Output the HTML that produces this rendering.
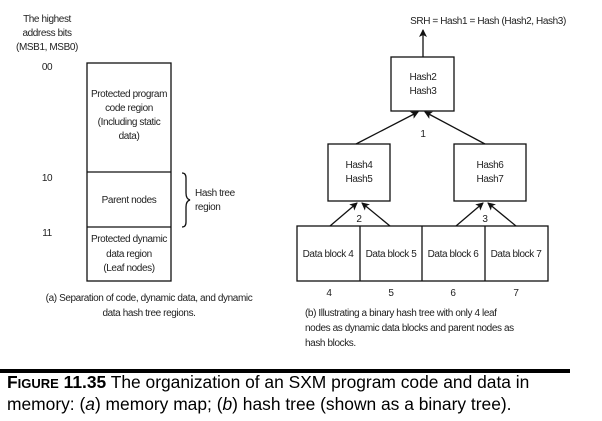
<!DOCTYPE html>
<html><head><meta charset="utf-8"><style>
body{margin:0;background:#fff;width:602px;height:421px;overflow:hidden}
svg text{font-family:"Liberation Sans Narrow","Liberation Sans",sans-serif;font-size:10px;fill:#222;letter-spacing:-0.4px}
.cap{position:absolute;left:7px;top:372px;font-family:"Liberation Sans",sans-serif;font-size:17.4px;line-height:20px;color:#000;white-space:nowrap}
</style></head><body>
<svg width="602" height="421" style="position:absolute;left:0;top:0">
<defs><marker id="a" markerWidth="8" markerHeight="8" refX="7" refY="4" orient="auto" markerUnits="userSpaceOnUse"><path d="M0,0 L8,4 L0,8 L2,4z" fill="#111"/></marker></defs>
<g stroke="#111" stroke-width="1.3" fill="none">
<rect x="87" y="63" width="84" height="218"/>
<line x1="87" y1="172" x2="171" y2="172"/><line x1="87" y1="227" x2="171" y2="227"/>
<path d="M182,173 q4,0 4,5 v15 q0,6 4,7 q-4,1 -4,7 v15 q0,5 -4,5"/>
<rect x="391" y="57" width="63" height="54"/>
<rect x="328" y="144" width="62" height="57"/>
<rect x="454" y="144" width="72" height="57"/>
<rect x="297" y="226" width="251" height="55"/>
<line x1="360" y1="226" x2="360" y2="281"/><line x1="422" y1="226" x2="422" y2="281"/><line x1="485" y1="226" x2="485" y2="281"/>
<line x1="423" y1="57" x2="423" y2="30" marker-end="url(#a)"/>
<line x1="356" y1="144" x2="418" y2="112" marker-end="url(#a)"/>
<line x1="485" y1="144" x2="425" y2="112" marker-end="url(#a)"/>
<line x1="330" y1="226" x2="357" y2="203" marker-end="url(#a)"/>
<line x1="390" y1="226" x2="362" y2="203" marker-end="url(#a)"/>
<line x1="456" y1="226" x2="483" y2="203" marker-end="url(#a)"/>
<line x1="516" y1="226" x2="488" y2="203" marker-end="url(#a)"/>
</g>
<rect x="0" y="369" width="570" height="4" fill="#000"/>
<g text-anchor="middle">
<text x="47" y="22">The highest</text><text x="47" y="36">address bits</text><text x="47" y="50">(MSB1, MSB0)</text>
<text x="47" y="70">00</text><text x="47" y="181">10</text><text x="47" y="236">11</text>
<text x="129" y="97">Protected program</text><text x="129" y="111">code region</text><text x="129" y="125">(Including static</text><text x="129" y="139">data)</text>
<text x="129" y="203">Parent nodes</text>
<text x="129" y="242">Protected dynamic</text><text x="129" y="257">data region</text><text x="129" y="271">(Leaf nodes)</text>
<text x="149" y="301">(a) Separation of code, dynamic data, and dynamic</text><text x="149" y="316">data hash tree regions.</text>
<text x="488" y="24">SRH = Hash1 = Hash (Hash2, Hash3)</text>
<text x="423" y="80">Hash2</text><text x="423" y="94">Hash3</text>
<text x="359" y="168">Hash4</text><text x="359" y="182">Hash5</text>
<text x="490" y="168">Hash6</text><text x="490" y="182">Hash7</text>
<text x="423" y="137">1</text><text x="359" y="222">2</text><text x="485" y="222">3</text>
<text x="328" y="257">Data block 4</text><text x="391" y="257">Data block 5</text><text x="453" y="257">Data block 6</text><text x="516" y="257">Data block 7</text>
<text x="329" y="296">4</text><text x="391" y="296">5</text><text x="453" y="296">6</text><text x="516" y="296">7</text>
</g>
<text x="305" y="316">(b) Illustrating a binary hash tree with only 4 leaf</text>
<text x="305" y="331">nodes as dynamic data blocks and parent nodes as</text>
<text x="305" y="346">hash blocks.</text>
<text x="195" y="196">Hash tree</text><text x="195" y="210">region</text>
</svg>
<div class="cap"><b>F<span style="font-size:13px">IGURE</span> 11.35</b> The organization of an SXM program code and data in<br>memory: (<i>a</i>) memory map; (<i>b</i>) hash tree (shown as a binary tree).</div>
</body></html>
